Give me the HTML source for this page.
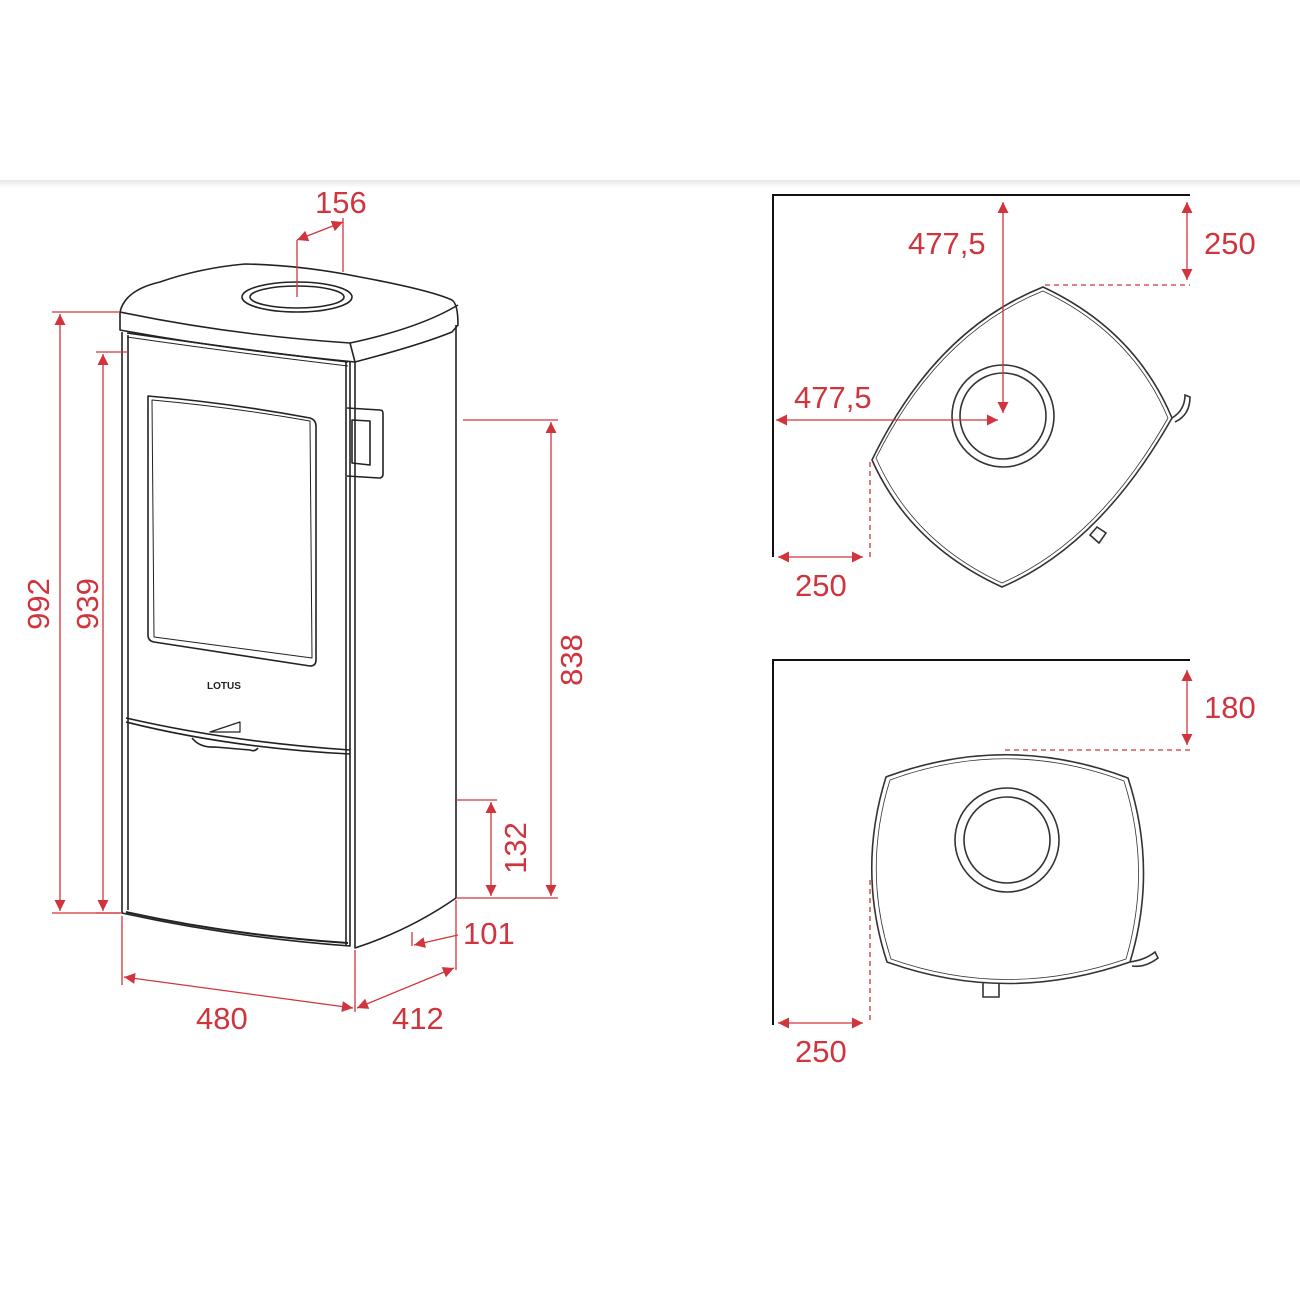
<!DOCTYPE html>
<html><head><meta charset="utf-8"><style>
html,body{margin:0;padding:0;background:#fff;}
svg{display:block;}
text{font-family:"Liberation Sans",sans-serif;fill:#d0343c;font-size:31px;}
</style></head><body>
<svg width="1300" height="1300" viewBox="0 0 1300 1300" xmlns="http://www.w3.org/2000/svg">
<defs>
<linearGradient id="sh" x1="0" y1="0" x2="0" y2="1"><stop offset="0" stop-color="#e8e8e8"/><stop offset="1" stop-color="#fff"/></linearGradient>
<marker id="a" viewBox="0 0 10 10" refX="10" refY="5" markerWidth="18" markerHeight="11" markerUnits="userSpaceOnUse" orient="auto-start-reverse"><path d="M0,0 L10,5 L0,10 z" fill="#d0343c"/></marker>
</defs>
<rect x="0" y="180" width="1300" height="8" fill="url(#sh)"/>

<!-- STOVE -->
<g fill="none" stroke="#222" stroke-width="1.6" stroke-linejoin="round">
<path d="M120,312 Q125,290 160,282 Q200,268 245,264 Q300,265 360,277 Q430,290 452,300 Q458,304 458,325 L452,332 Q420,345 355,362 L350,343 Q230,335 120,312 Z"/>
<path d="M120,312 L120,330 Q230,350 355,362"/>
<path d="M350,343 Q420,328 458,305"/>
<ellipse cx="297" cy="297" rx="55" ry="15"/>
<ellipse cx="297" cy="297" rx="47" ry="11"/>
<path d="M122,332 L122,913 Q230,937 350,946 L350,362"/>
<path d="M128,335 L128,910"/>
<path d="M355,362 L355,948 Q410,930 456,898 L456,325"/>
<path d="M346,362 L346,945"/>
<path d="M127,333 Q230,348 348,362"/>
<path d="M127,337 Q230,352 348,366" stroke-width="1"/>
<path d="M148,396 Q230,403 310,418 Q316,420 316,426 L316,660 Q316,666 310,666 L154,642 Q148,641 148,635 Z"/>
<path d="M152,400 Q230,407 310,421 L312,658 L154,637 Z" stroke-width="1"/>
<path d="M347,408 L380,410 Q383,410 383,414 L383,474 Q383,478 379,478 L347,476"/>
<path d="M352,420 L370,421 L370,465 L352,463 Z"/>
<path d="M210,732 L240,732 L240,722 Z" stroke-width="1.2"/>
<path d="M126,718 Q230,742 350,750"/>
<path d="M126,722 Q230,748 350,754"/>
<path d="M192,738 Q200,748 215,747 L250,750 Q255,752 258,748"/>
<path d="M126,912 Q230,935 348,943" stroke-width="2"/>
</g>
<text x="207" y="689" style="font-size:10px;fill:#222;font-weight:bold">LOTUS</text>

<g stroke="#d0343c" stroke-width="1.3" fill="none">
<line x1="52" y1="312" x2="120" y2="312"/><line x1="52" y1="913" x2="120" y2="913"/>
<line x1="60" y1="314" x2="60" y2="911" marker-start="url(#a)" marker-end="url(#a)"/>
<line x1="96" y1="352" x2="128" y2="352"/><line x1="96" y1="913" x2="122" y2="913"/>
<line x1="103" y1="354" x2="103" y2="911" marker-start="url(#a)" marker-end="url(#a)"/>
<line x1="463" y1="420" x2="558" y2="420"/><line x1="456" y1="898" x2="558" y2="898"/>
<line x1="551" y1="422" x2="551" y2="896" marker-start="url(#a)" marker-end="url(#a)"/>
<line x1="456" y1="800" x2="497" y2="800"/>
<line x1="491" y1="802" x2="491" y2="896" marker-start="url(#a)" marker-end="url(#a)"/>
<line x1="412" y1="932" x2="412" y2="946"/>
<line x1="458" y1="935" x2="414" y2="945" marker-end="url(#a)"/>
<line x1="122" y1="916" x2="122" y2="985"/><line x1="355" y1="950" x2="355" y2="1012"/>
<line x1="456" y1="900" x2="456" y2="970"/>
<line x1="124" y1="977" x2="353" y2="1008" marker-start="url(#a)" marker-end="url(#a)"/>
<line x1="357" y1="1008" x2="454" y2="968" marker-start="url(#a)" marker-end="url(#a)"/>
<line x1="297" y1="240" x2="297" y2="297"/><line x1="343" y1="218" x2="343" y2="272"/>
<line x1="297" y1="240" x2="343" y2="222" marker-start="url(#a)" marker-end="url(#a)"/>
</g>
<text x="315" y="213">156</text>
<text transform="translate(49,604) rotate(-90)" text-anchor="middle">992</text>
<text transform="translate(98,604) rotate(-90)" text-anchor="middle">939</text>
<text transform="translate(582,660) rotate(-90)" text-anchor="middle">838</text>
<text transform="translate(526,848) rotate(-90)" text-anchor="middle">132</text>
<text x="463" y="944">101</text>
<text x="196" y="1029">480</text>
<text x="392" y="1029">412</text>

<g fill="none" stroke="#111" stroke-width="2">
<path d="M773,557 L773,195 L1190,195"/>
</g>
<g fill="none" stroke="#333" stroke-width="1.6">
<path d="M872,460 Q935,330 1043,287 Q1135,330 1172,418 Q1100,545 1002,587 Q910,545 872,460 Z"/>
<path d="M876,458 Q938,333 1043,291 Q1132,333 1168,418 Q1098,541 1002,583 Q913,542 876,458 Z" stroke-width="0.8"/>
<circle cx="1003" cy="416" r="51"/>
<circle cx="1003" cy="416" r="43"/>
<path d="M1172,418 Q1185,410 1185,395 L1190,397 Q1190,415 1175,422"/>
<path d="M1090,535 L1097,527 L1106,533 L1099,543 Z"/>
</g>
<g stroke="#d0343c" stroke-width="1.3" fill="none">
<line x1="1003" y1="202" x2="1003" y2="413" marker-start="url(#a)" marker-end="url(#a)"/>
<line x1="1187" y1="202" x2="1187" y2="280" marker-start="url(#a)" marker-end="url(#a)"/>
<line x1="1045" y1="285" x2="1190" y2="285" stroke-dasharray="5,4"/>
<line x1="776" y1="420" x2="998" y2="420" marker-start="url(#a)" marker-end="url(#a)"/>
<line x1="778" y1="557" x2="863" y2="557" marker-start="url(#a)" marker-end="url(#a)"/>
<line x1="870" y1="462" x2="870" y2="557" stroke-dasharray="5,4"/>
</g>
<text x="908" y="254">477,5</text>
<text x="1204" y="254">250</text>
<text x="794" y="408">477,5</text>
<text x="795" y="596">250</text>

<g fill="none" stroke="#111" stroke-width="2">
<path d="M773,1025 L773,660 L1190,660"/>
</g>
<g fill="none" stroke="#333" stroke-width="1.6">
<path d="M886,777 Q1007,732 1128,778 Q1158,870 1130,962 Q1007,1005 887,962 Q857,870 886,777 Z"/>
<path d="M890,780 Q1007,737 1124,781 Q1152,870 1126,959 Q1007,1000 891,959 Q862,870 890,780 Z" stroke-width="0.8"/>
<circle cx="1007" cy="840" r="52"/>
<circle cx="1007" cy="840" r="43"/>
<path d="M1130,962 Q1145,960 1155,952 L1158,958 Q1145,968 1132,966"/>
<path d="M983,983 L983,997 L999,997 L999,983"/>
</g>
<g stroke="#d0343c" stroke-width="1.3" fill="none">
<line x1="1187" y1="670" x2="1187" y2="745" marker-start="url(#a)" marker-end="url(#a)"/>
<line x1="1005" y1="750" x2="1190" y2="750" stroke-dasharray="5,4"/>
<line x1="778" y1="1023" x2="863" y2="1023" marker-start="url(#a)" marker-end="url(#a)"/>
<line x1="870" y1="880" x2="870" y2="1023" stroke-dasharray="5,4"/>
</g>
<text x="1204" y="718">180</text>
<text x="795" y="1062">250</text>
</svg>
</body></html>
